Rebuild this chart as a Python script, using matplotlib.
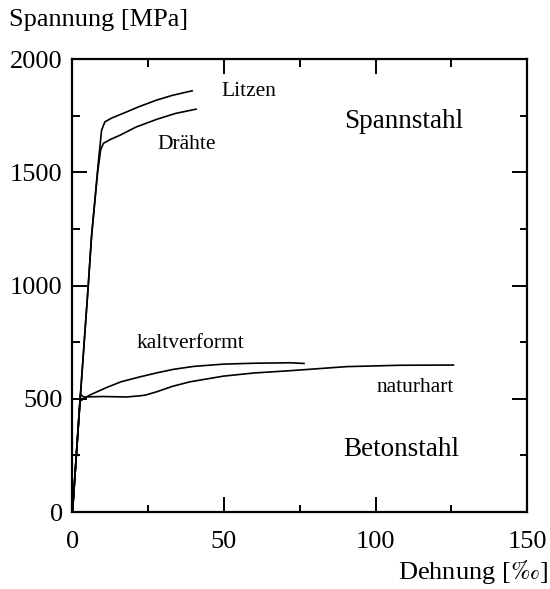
import numpy as np
import matplotlib.pyplot as plt
from matplotlib.ticker import MultipleLocator

plt.rcParams['font.family'] = ['Liberation Serif', 'DejaVu Serif']
plt.rcParams['mathtext.fontset'] = 'stix'

## Spannstahl curves: strain [permille], stress [MPa]
litzen_eps = [0, 2.5, 5.2, 6.3, 8.5, 9.6, 10.7, 13.0, 17.9, 22.0, 27.8, 33.0, 39.5]
litzen_sig = [0, 494, 1000, 1220, 1540, 1686, 1723, 1740, 1767, 1790, 1819, 1840, 1860]
draehte_eps = [0, 2.5, 5.2, 6.3, 8.3, 9.3, 10.2, 12.5, 15.7, 21.0, 27.8, 34.0, 40.8]
draehte_sig = [0, 494, 1000, 1220, 1500, 1600, 1628, 1645, 1664, 1700, 1734, 1760, 1779]

## Betonstahl curves
kalt_eps = [0, 2.5, 5.8, 11.3, 16.0, 22.3, 28.0, 33.3, 40.0, 49.8, 60.0, 71.8, 76.4]
kalt_sig = [0, 490, 517, 550, 575, 597, 615, 630, 643, 653, 657, 659, 656]
natur_eps = [0, 2.6, 3.6, 10.0, 18.0, 22.8, 24.0, 27.8, 33.0, 38.8, 49.8, 60.0, 71.8, 90.5, 108.0, 125.7]
natur_sig = [0, 520, 508, 510, 508, 514, 516, 531, 555, 575, 600, 614, 624, 642, 648, 649]

fig = plt.figure(figsize=(5.5, 5.89), dpi=100)
ax = fig.add_axes([0.1318, 0.1307, 0.8264, 0.769])

for e, s in [(litzen_eps, litzen_sig), (draehte_eps, draehte_sig),
             (kalt_eps, kalt_sig), (natur_eps, natur_sig)]:
    ax.plot(e, s, 'k-', lw=1.2)

ax.set_xlim(0, 150)
ax.set_ylim(0, 2000)
ax.xaxis.set_major_locator(MultipleLocator(50))
ax.xaxis.set_minor_locator(MultipleLocator(25))
ax.yaxis.set_major_locator(MultipleLocator(500))
ax.yaxis.set_minor_locator(MultipleLocator(250))
ax.tick_params(which='both', direction='in', top=True, right=True,
               width=1.4, labelsize=19)
ax.tick_params(which='major', length=10.8)
ax.tick_params(which='minor', length=5.4)
ax.tick_params(axis='x', which='major', pad=14)
ax.tick_params(axis='y', which='major', pad=7)
for sp in ax.spines.values():
    sp.set_linewidth(1.6)

## labels inside the plot
ax.text(58.3, 1856, 'Litzen', fontsize=15.5, ha='center', va='center')
ax.text(37.7, 1625, 'Drähte', fontsize=15.5, ha='center', va='center')
ax.text(109.2, 1723, 'Spannstahl', fontsize=19.5, ha='center', va='center')
ax.text(38.8, 745, 'kaltverformt', fontsize=15.5, ha='center', va='center')
ax.text(113, 550, 'naturhart', fontsize=15.5, ha='center', va='center')
ax.text(108.6, 277, 'Betonstahl', fontsize=19.5, ha='center', va='center')

fig.text(9 / 550, 1 - 20 / 589, 'Spannung [MPa]', fontsize=19, ha='left', va='center')
fig.text(548 / 550, 1 - 572 / 589, 'Dehnung [$\\it{‰}$]', fontsize=19, ha='right', va='center')

fig.savefig('out.png', dpi=100)
